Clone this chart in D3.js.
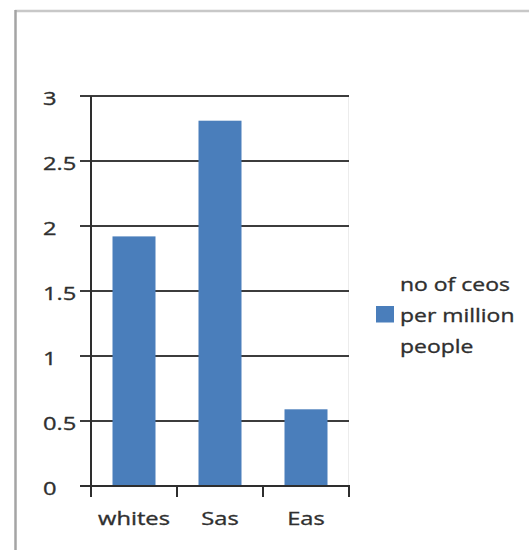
<!DOCTYPE html>
<html lang="en">
<head>
<meta charset="utf-8">
<title>ceos per million</title>
<script src="https://d3js.org/d3.v7.min.js"></script>
<style>
  body { margin: 0; background: #fff; }
  text { font-family: "Open Sans", sans-serif; fill: #2f2f2f; stroke: #2f2f2f; stroke-width: 0.35px; }
</style>
</head>
<body>
<div class="chart"></div>
<script type="text/javascript">
// data
const categories = ['whites', 'Sas', 'Eas'];
const ceos = [1.92, 2.81, 0.59];
const yTicks = [0, 0.5, 1, 1.5, 2, 2.5, 3];
const legendLines = ['no of ceos', 'per million', 'people'];

const width = 529;
const height = 550;
const blue = '#4a7ebb';
const stretch = 1.28; // text in the picture is wider than normal

const svg = d3.select('.chart')
  .append('svg')
  .attr('width', width)
  .attr('height', height);

// outer frame (only top and left show)
svg.append('line')
  .attr('x1', 15).attr('x2', width).attr('y1', 11).attr('y2', 11)
  .attr('stroke', '#c8c8c8').attr('stroke-width', 2.5);
svg.append('line')
  .attr('x1', 15.5).attr('x2', 15.5).attr('y1', 10).attr('y2', height)
  .attr('stroke', '#a4a4a4').attr('stroke-width', 2.5);

const x = d3.scaleBand()
  .domain(categories)
  .range([91, 349])
  .paddingInner(0.5)
  .paddingOuter(0.25);

const y = d3.scaleLinear()
  .domain([0, 3])
  .range([486, 96]);

// faint plot area right edge
svg.append('line')
  .attr('x1', 348.5).attr('x2', 348.5).attr('y1', y(3)).attr('y2', y(0))
  .attr('stroke', '#ececec');

// gridlines
svg.selectAll('.grid')
  .data(yTicks.filter(d => d > 0))
  .enter()
  .append('line')
  .attr('class', 'grid')
  .attr('x1', 80)
  .attr('x2', 349)
  .attr('y1', d => y(d))
  .attr('y2', d => y(d))
  .attr('stroke', '#3c3c3c')
  .attr('stroke-width', 2);

// bars
svg.selectAll('rect.bar')
  .data(ceos)
  .enter()
  .append('rect')
  .attr('class', 'bar')
  .attr('x', (d, i) => x(categories[i]))
  .attr('width', x.bandwidth())
  .attr('y', d => y(d))
  .attr('height', d => y(0) - y(d))
  .attr('fill', blue);

// y axis line
svg.append('line')
  .attr('x1', 91).attr('x2', 91).attr('y1', y(3)).attr('y2', y(0))
  .attr('stroke', '#2e2e2e').attr('stroke-width', 2);

// x axis line + ticks
svg.append('line')
  .attr('x1', 80).attr('x2', 350).attr('y1', y(0)).attr('y2', y(0))
  .attr('stroke', '#2e2e2e').attr('stroke-width', 2);

const step = x.step();
const edges = [91].concat(categories.map(c => x(c) + x.bandwidth() / 2 + step / 2));
svg.selectAll('.xtick')
  .data(edges)
  .enter()
  .append('line')
  .attr('class', 'xtick')
  .attr('x1', d => d).attr('x2', d => d)
  .attr('y1', y(0)).attr('y2', y(0) + 11)
  .attr('stroke', '#2e2e2e').attr('stroke-width', 2);

// y labels
svg.selectAll('.ylabel')
  .data(yTicks)
  .enter()
  .append('text')
  .attr('class', 'ylabel')
  .attr('transform', d => `translate(43,${y(d) + 8.5}) scale(${stretch},1)`)
  .style('font-size', '18.5px')
  .text(d => d);

// x labels
svg.selectAll('.xlabel')
  .data(categories)
  .enter()
  .append('text')
  .attr('class', 'xlabel')
  .attr('text-anchor', 'middle')
  .attr('transform', d => `translate(${x(d) + x.bandwidth() / 2},525) scale(${stretch},1)`)
  .style('font-size', '18.5px')
  .text(d => d);

// legend
svg.append('rect')
  .attr('x', 376).attr('y', 306)
  .attr('width', 18).attr('height', 16.5)
  .attr('fill', blue);

svg.selectAll('.legend')
  .data(legendLines)
  .enter()
  .append('text')
  .attr('class', 'legend')
  .attr('transform', (d, i) => `translate(400,${291 + i * 31}) scale(1.24,1)`)
  .style('font-size', '18.5px')
  .text(d => d);
</script>
</body>
</html>
